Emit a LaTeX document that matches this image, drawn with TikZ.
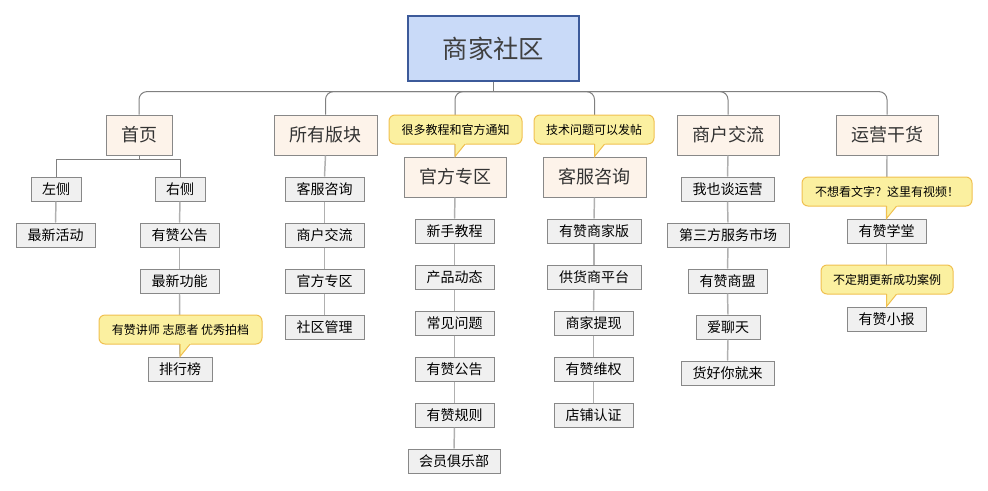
\documentclass[tikz,border=0pt]{standalone}
\usepackage{fontspec}
\newfontfamily\cjk{Noto Sans CJK SC}
\usetikzlibrary{calc}
\definecolor{rootfill}{HTML}{C9DAF8}
\definecolor{rootdraw}{HTML}{3C5A9A}
\definecolor{lonefill}{HTML}{FDF3EA}
\definecolor{boxdraw}{HTML}{888888}
\definecolor{ltwofill}{HTML}{F0F0F0}
\definecolor{cfill}{HTML}{FBF0A0}
\definecolor{cdraw}{HTML}{F0C050}
\definecolor{busc}{HTML}{808080}
\definecolor{chainc}{HTML}{B0B0B0}
\tikzset{
 rootbox/.style={draw=rootdraw, fill=rootfill, line width=0.9pt, minimum width=128.25pt, minimum height=48.75pt, font=\cjk\fontsize{19}{22}\selectfont, text=black!75, inner sep=0pt},
 lonebox/.style={draw=boxdraw, fill=lonefill, line width=0.75pt, minimum height=30pt, font=\cjk\fontsize{13.5}{16}\selectfont, text=black!80, inner sep=0pt},
 ltwobox/.style={draw=boxdraw, fill=ltwofill, line width=0.75pt, minimum height=18pt, font=\cjk\fontsize{10.5}{12}\selectfont, inner sep=0pt},
 callout/.style={draw=cdraw, fill=cfill, line width=0.75pt, rounded corners=4.5pt, minimum height=21.75pt, font=\cjk\fontsize{9}{11}\selectfont, inner sep=0pt},
 bus/.style={draw=busc, line width=0.75pt},
 chain/.style={draw=chainc, line width=1.1pt},
 ptr/.style={draw=cdraw, line width=0.75pt},
}
\begin{document}
\begin{tikzpicture}[x=0.75pt,y=-0.75pt]
\useasboundingbox (0,0) rectangle (988,490);
% root
\node[rootbox] (root) at (493.5,48.5) {商家社区};
% level 1
\node[lonebox, minimum width=49.5pt]  (shouye) at (139,135) {首页};
\node[lonebox, minimum width=77.25pt] (suoyou) at (325.5,135) {所有版块};
\node[lonebox, minimum width=76.5pt]  (guanfang) at (455,177) {官方专区};
\node[lonebox, minimum width=77.25pt] (kefu) at (594.5,177) {客服咨询};
\node[lonebox, minimum width=76.5pt]  (shanghu) at (728,135) {商户交流};
\node[lonebox, minimum width=76.5pt]  (yunying) at (887,135) {运营干货};
% 首页 children
\node[ltwobox, minimum width=37.5pt] (zuoce) at (56,189) {左侧};
\node[ltwobox, minimum width=37.5pt] (youce) at (180,189) {右侧};
\node[ltwobox, minimum width=59.25pt] (zxhd) at (55.5,235) {最新活动};
\node[ltwobox, minimum width=59.25pt] (syzgg) at (179.5,235) {有赞公告};
\node[ltwobox, minimum width=59.25pt] (zxgn) at (179.5,281) {最新功能};
\node[ltwobox, minimum width=48pt] (phb) at (180,369) {排行榜};
% 所有版块 children
\node[ltwobox, minimum width=59.25pt] (sa) at (324.5,189) {客服咨询};
\node[ltwobox, minimum width=59.25pt] (sb) at (324.5,235) {商户交流};
\node[ltwobox, minimum width=59.25pt] (sc) at (324.5,281) {官方专区};
\node[ltwobox, minimum width=59.25pt] (sd) at (324.5,327) {社区管理};
% 官方专区 children
\node[ltwobox, minimum width=59.25pt] (ga) at (454.5,231) {新手教程};
\node[ltwobox, minimum width=59.25pt] (gb) at (454.5,277) {产品动态};
\node[ltwobox, minimum width=59.25pt] (gc) at (454.5,323) {常见问题};
\node[ltwobox, minimum width=59.25pt] (gd) at (454.5,369) {有赞公告};
\node[ltwobox, minimum width=59.25pt] (ge) at (454.5,415) {有赞规则};
\node[ltwobox, minimum width=69pt] (gf) at (454,461) {会员俱乐部};
% 客服咨询 children
\node[ltwobox, minimum width=70.5pt] (ka) at (594,231) {有赞商家版};
\node[ltwobox, minimum width=70.5pt] (kb) at (594,277) {供货商平台};
\node[ltwobox, minimum width=59.25pt] (kc) at (593.5,323) {商家提现};
\node[ltwobox, minimum width=59.25pt] (kd) at (593.5,369) {有赞维权};
\node[ltwobox, minimum width=59.25pt] (ke) at (593.5,415) {店铺认证};
% 商户交流 children
\node[ltwobox, minimum width=69.75pt] (ha) at (727.5,189) {我也谈运营};
\node[ltwobox, minimum width=91.5pt] (hb) at (728,235) {第三方服务市场};
\node[ltwobox, minimum width=59.25pt] (hc) at (727.5,281) {有赞商盟};
\node[ltwobox, minimum width=48pt] (hd) at (728,327) {爱聊天};
\node[ltwobox, minimum width=69.75pt] (he) at (727.5,373) {货好你就来};
% 运营干货 children
\node[ltwobox, minimum width=59.25pt] (ya) at (886.5,231) {有赞学堂};
\node[ltwobox, minimum width=59.25pt] (yb) at (886.5,319) {有赞小报};
% connectors from root
\coordinate (bus) at ($(root.south)+(0,10)$);
\draw[bus] (root.south) -- (bus);
\foreach \t in {shouye,suoyou,guanfang,kefu,shanghu,yunying}
  \draw[bus, rounded corners=6pt] (bus) -| (\t.north);
% 首页 branch
\coordinate (sy) at ($(shouye.south)+(0,4)$);
\draw[bus] (shouye.south) -- (sy);
\draw[bus] (sy) -| (zuoce.north);
\draw[bus] (sy) -| (youce.north);
% chains
\draw[chain] (zuoce.south) -- (zxhd.north);
\draw[chain] (youce.south) -- (syzgg.north);
\draw[chain] (syzgg.south) -- (zxgn.north);
\draw[chain] (zxgn.south) -- (phb.north);
\draw[chain] (suoyou.south) -- (sa.north);
\draw[chain] (sa.south) -- (sb.north);
\draw[chain] (sb.south) -- (sc.north);
\draw[chain] (sc.south) -- (sd.north);
\draw[chain] (guanfang.south) -- (ga.north);
\draw[chain] (ga.south) -- (gb.north);
\draw[chain] (gb.south) -- (gc.north);
\draw[chain] (gc.south) -- (gd.north);
\draw[chain] (gd.south) -- (ge.north);
\draw[chain] (ge.south) -- (gf.north);
\draw[chain] (kefu.south) -- (ka.north);
\draw[chain] (ka.south) -- (kb.north);
\draw[chain] (kb.south) -- (kc.north);
\draw[chain] (kc.south) -- (kd.north);
\draw[chain] (kd.south) -- (ke.north);
\draw[chain] (shanghu.south) -- (ha.north);
\draw[chain] (ha.south) -- (hb.north);
\draw[chain] (hb.south) -- (hc.north);
\draw[chain] (hc.south) -- (hd.north);
\draw[chain] (hd.south) -- (he.north);
\draw[chain] (yunying.south) -- (ya.north);
\draw[chain] (ya.south) -- (yb.north);
% callouts
\node[callout, minimum width=99.75pt] (ca) at (455.5,129.5) {很多教程和官方通知};
\node[callout, minimum width=90pt] (cb) at (594,129.5) {技术问题可以发帖};
\node[callout, minimum width=122.25pt] (cc) at (180.5,329.5) {有赞讲师 志愿者 优秀拍档};
\node[callout, minimum width=127.5pt] (cd) at (887,191.5) {不想看文字？这里有视频！};
\node[callout, minimum width=99pt] (ce) at (887,279.5) {不定期更新成功案例};
\foreach \c/\t in {ca/guanfang,cb/kefu,cc/phb,cd/ya,ce/yb}{
  \fill[cfill] (\t.north) -- ($(\t.north |- \c.south)+(0,-1.3)$) -- ($(\t.north |- \c.south)+(11,-1.3)$) -- cycle;
  \draw[ptr] ($(\t.north |- \c.south)+(0,-0.3)$) -- (\t.north) -- ($(\t.north |- \c.south)+(10,-0.3)$);
}
\end{tikzpicture}
\end{document}
